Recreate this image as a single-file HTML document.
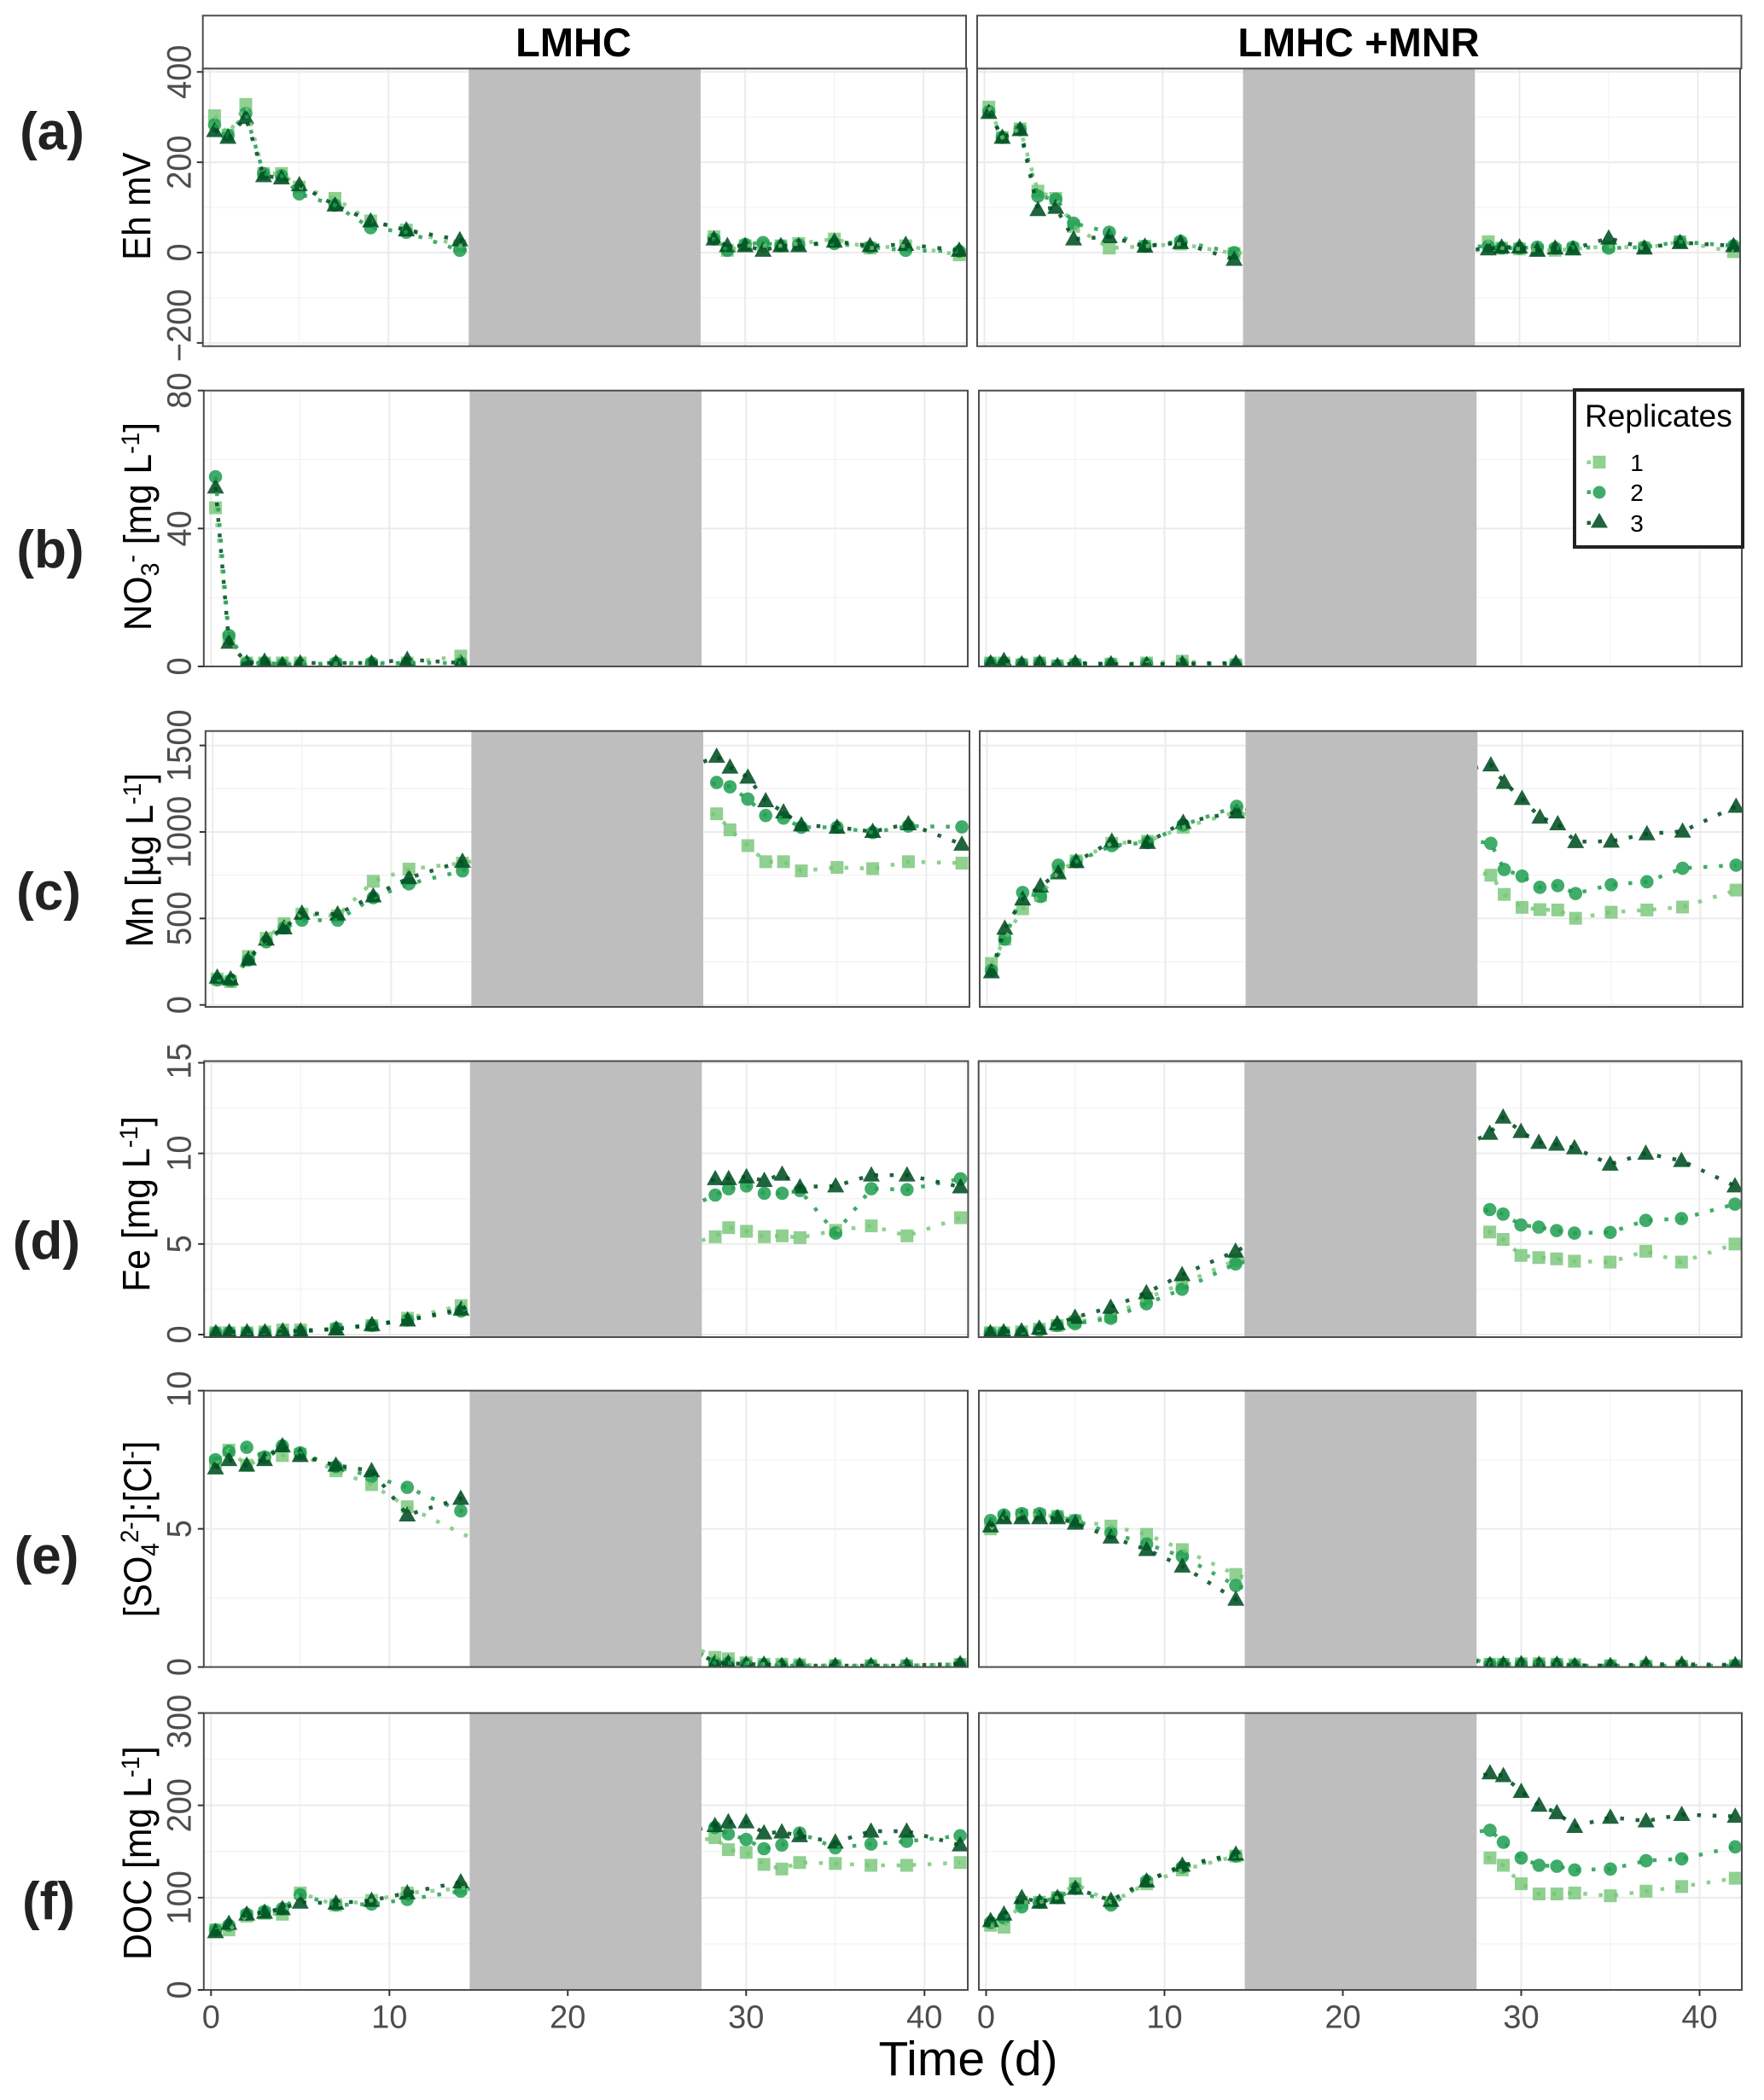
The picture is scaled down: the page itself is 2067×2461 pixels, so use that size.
<!DOCTYPE html>
<html lang="en">
<head>
<meta charset="utf-8">
<title>Porewater chemistry over time, LMHC and LMHC +MNR</title>
<style>
  html, body { margin: 0; padding: 0; background: #fff; }
  body { width: 2067px; height: 2461px; overflow: hidden; }
  svg { display: block; font-family: "Liberation Sans", Arial, sans-serif; }
</style>
</head>
<body>
<svg id="chart" xmlns="http://www.w3.org/2000/svg" width="2067" height="2461" viewBox="0 0 2067 2461">
  <rect x="0" y="0" width="2067" height="2461" fill="#ffffff"/>
  <g id="panels"></g>

  <g>
    <rect x="237.7" y="18.3" width="894.3" height="62" fill="#ffffff" stroke="#4d4d4d" stroke-width="2"/>
    <rect x="1145" y="18.3" width="895.5" height="62" fill="#ffffff" stroke="#4d4d4d" stroke-width="2"/>
    <text x="672" y="66" font-size="47" font-weight="700" text-anchor="middle" fill="#000000">LMHC</text>
    <text x="1592" y="66" font-size="47" font-weight="700" text-anchor="middle" fill="#000000">LMHC +MNR</text>
  </g>

  <g font-size="62" font-weight="700" fill="#222222" text-anchor="middle">
    <text x="61" y="175">(a)</text>
    <text x="59" y="665">(b)</text>
    <text x="57" y="1066">(c)</text>
    <text x="54.5" y="1475">(d)</text>
    <text x="54.5" y="1844">(e)</text>
    <text x="57" y="2249">(f)</text>
  </g>

  <g fill="#000000" text-anchor="middle">
    <text font-size="46" transform="translate(176 241.7) rotate(-90) scale(0.915 1)">Eh mV</text>
    <text font-size="45" transform="translate(177 617) rotate(-90) scale(0.945 1)">NO<tspan font-size="30" dy="9">3</tspan><tspan font-size="30" dy="-22">-</tspan><tspan dy="13"> [mg L</tspan><tspan font-size="30" dy="-14">-1</tspan><tspan dy="14">]</tspan></text>
    <text font-size="45" transform="translate(179 1008) rotate(-90) scale(0.95 1)">Mn [µg L<tspan font-size="30" dy="-14">-1</tspan><tspan dy="14">]</tspan></text>
    <text font-size="45" transform="translate(175 1411) rotate(-90) scale(0.95 1)">Fe [mg L<tspan font-size="30" dy="-14">-1</tspan><tspan dy="14">]</tspan></text>
    <text font-size="45" transform="translate(177 1792) rotate(-90) scale(0.925 1)">[SO<tspan font-size="30" dy="9">4</tspan><tspan font-size="30" dy="-24">2-</tspan><tspan dy="15">]:[Cl</tspan><tspan font-size="30" dy="-14">-</tspan><tspan dy="14">]</tspan></text>
    <text font-size="46" transform="translate(177 2171.7) rotate(-90) scale(0.93 1)">DOC [mg L<tspan font-size="30" dy="-14">-1</tspan><tspan dy="14">]</tspan></text>
  </g>

  <text x="1134.5" y="2432" font-size="57" text-anchor="middle" fill="#000000">Time (d)</text>

  <g>
    <rect x="1845" y="457" width="197" height="184" fill="#ffffff" stroke="#222222" stroke-width="4"/>
    <text x="1857" y="500" font-size="37" fill="#000000">Replicates</text>
    <g>
      <rect x="1859.5" y="539.5" width="4.5" height="4.5" fill="#74c476" fill-opacity="0.8"/>
      <rect x="1866.5" y="534" width="15" height="15" fill="#74c476" fill-opacity="0.8"/>
      <text x="1918" y="552" font-size="28" text-anchor="middle" fill="#000000">1</text>
    </g>
    <g>
      <rect x="1859.5" y="574.5" width="4.5" height="4.5" fill="#1f9e50" fill-opacity="0.85"/>
      <circle cx="1874" cy="577" r="7.5" fill="#1f9e50" fill-opacity="0.85"/>
      <text x="1918" y="587" font-size="28" text-anchor="middle" fill="#000000">2</text>
    </g>
    <g>
      <rect x="1859.5" y="610.5" width="4.5" height="4.5" fill="#004f22" fill-opacity="0.88"/>
      <polygon points="1874,601 1884,618.5 1864,618.5" fill="#004f22" fill-opacity="0.88"/>
      <text x="1918" y="623" font-size="28" text-anchor="middle" fill="#000000">3</text>
    </g>
  </g>
</svg>

<script>
// ---- data ----
const days = [0.25, 1, 2, 3, 4, 5, 7, 9, 11, 14, 28.25, 29, 30, 31, 32, 33, 35, 37, 39, 42];
const xTicks = [0, 10, 20, 30, 40];
const xTickLabels = ['0', '10', '20', '30', '40'];
const xMinorTicks = [5, 15, 25, 35];
const anoxicStart = 14.5;
const anoxicEnd = 27.5;

const ehTicks = [-200, 0, 200, 400];
const ehTickLabels = ['\u2212200', '0', '200', '400'];
const ehLeft1 = [303, 260, 328, 175, 175, 145, 120, 70, 50, 15, 35, 5, 15, 15, 15, 20, 30, 10, 15, -5];
const ehLeft2 = [283, 260, 308, 175, 170, 130, 105, 55, 45, 5, 30, 5, 18, 22, 15, 17, 20, 12, 5, 3];
const ehLeft3 = [270, 255, 299, 170, 165, 150, 105, 70, 50, 28, 30, 15, 15, 5, 15, 15, 25, 15, 18, 5];
const ehRight1 = [322, 255, 274, 136, 120, 58, 10, 14, 19, -2, 24, 10, 8, 5, 5, 8, 14, 10, 24, 2];
const ehRight2 = [312, 255, 272, 125, 118, 65, 45, 14, 25, 0, 14, 10, 10, 12, 10, 12, 10, 12, 24, 15];
const ehRight3 = [310, 255, 272, 95, 100, 30, 35, 14, 22, -15, 8, 12, 12, 5, 10, 8, 32, 10, 22, 15];

const no3Ticks = [0, 40, 80];
const no3TickLabels = ['0', '40', '80'];
const no3Left1 = [46, 8, 1, 1, 1, 1, 0.5, 0.5, 1, 3, null, null, null, null, null, null, null, null, null, null];
const no3Left2 = [55, 9, 1, 1, 0.5, 0.5, 1, 1, 1, 1, null, null, null, null, null, null, null, null, null, null];
const no3Left3 = [52, 7, 1, 1.5, 0.5, 1, 1, 1, 2, 1, null, null, null, null, null, null, null, null, null, null];
const no3Right1 = [1, 1, 0.5, 1, 0.2, 0.5, 0.7, 1, 1.5, 0.5, null, null, null, null, null, null, null, null, null, null];
const no3Right2 = [1, 1, 0.7, 1, 0.2, 0.7, 0.7, 0.7, 0.7, 0.5, null, null, null, null, null, null, null, null, null, null];
const no3Right3 = [1, 1.7, 0.7, 1, 0.2, 1, 0.7, 0.5, 0.8, 1, null, null, null, null, null, null, null, null, null, null];

const mnTicks = [0, 500, 1000, 1500];
const mnTickLabels = ['0', '500', '1000', '1500'];
const mnLeft1 = [150, 135, 280, 385, 470, 525, 515, 715, 785, 820, 1105, 1012, 921, 828, 828, 775, 795, 788, 828, 820];
const mnLeft2 = [145, 140, 260, 365, 445, 490, 490, 620, 700, 775, 1286, 1261, 1190, 1095, 1080, 1027, 1027, 997, 1034, 1029];
const mnLeft3 = [160, 150, 265, 380, 445, 530, 525, 630, 735, 830, 1437, 1374, 1316, 1180, 1115, 1040, 1027, 1002, 1047, 929];
const mnRight1 = [240, 380, 556, 632, 770, 833, 934, 946, 1027, 1115, 750, 639, 564, 551, 549, 501, 536, 549, 566, 664];
const mnRight2 = [199, 380, 650, 627, 808, 828, 921, 939, 1040, 1148, 934, 783, 745, 680, 690, 644, 695, 712, 790, 808];
const mnRight3 = [191, 443, 612, 687, 763, 828, 946, 939, 1055, 1115, 1387, 1286, 1193, 1085, 1047, 944, 946, 989, 1004, 1148];

const feTicks = [0, 5, 10, 15];
const feTickLabels = ['0', '5', '10', '15'];
const feLeft1 = [0.1, 0.1, 0.1, 0.15, 0.25, 0.25, 0.3, 0.5, 0.9, 1.6, 5.4, 5.9, 5.7, 5.4, 5.45, 5.35, 5.75, 6.0, 5.45, 6.45];
const feLeft2 = [0.1, 0.1, 0.1, 0.1, 0.1, 0.15, 0.35, 0.5, 0.8, 1.3, 7.7, 8.05, 8.2, 7.8, 7.8, 7.95, 5.6, 8.05, 8.0, 8.6];
const feLeft3 = [0.1, 0.15, 0.15, 0.15, 0.2, 0.2, 0.3, 0.55, 0.8, 1.4, 8.6, 8.6, 8.7, 8.5, 8.85, 8.15, 8.2, 8.8, 8.8, 8.15];
const feRight1 = [0.1, 0.1, 0.15, 0.3, 0.5, 0.7, 1.0, 2.0, 2.8, 4.1, 5.66, 5.25, 4.37, 4.25, 4.18, 4.05, 4.0, 4.6, 4.0, 5.0];
const feRight2 = [0.1, 0.1, 0.1, 0.25, 0.5, 0.6, 0.9, 1.7, 2.5, 3.9, 6.9, 6.65, 6.05, 5.93, 5.74, 5.6, 5.64, 6.3, 6.4, 7.2];
const feRight3 = [0.1, 0.15, 0.2, 0.35, 0.6, 0.95, 1.5, 2.3, 3.3, 4.6, 11.1, 12.0, 11.2, 10.6, 10.5, 10.3, 9.4, 10.0, 9.6, 8.2];

const so4Ticks = [0, 5, 10];
const so4TickLabels = ['0', '5', '10'];
const so4Left1 = [7.4, 7.85, 7.3, 7.55, 7.65, 7.7, 7.1, 6.6, 5.8, null, 0.35, 0.3, 0.15, 0.1, 0.1, 0.08, 0.05, 0.05, 0.05, 0.1];
const so4Left2 = [7.5, 7.8, 7.95, 7.6, 8.0, 7.75, 7.25, 6.9, 6.5, 5.65, 0.15, 0.15, 0.1, 0.08, 0.05, 0.05, 0.05, 0.05, 0.05, 0.1];
const so4Left3 = [7.2, 7.5, 7.3, 7.5, 8.0, 7.65, 7.3, 7.1, 5.5, 6.1, 0.15, 0.15, 0.1, 0.1, 0.05, 0.05, 0.05, 0.05, 0.05, 0.12];
const so4Right1 = [5.0, 5.4, 5.5, 5.5, 5.45, 5.3, 5.1, 4.8, 4.25, 3.35, 0.1, 0.1, 0.12, 0.12, 0.1, 0.08, 0.05, 0.03, 0.03, 0.05];
const so4Right2 = [5.3, 5.5, 5.55, 5.55, 5.45, 5.3, 4.85, 4.45, 4.0, 2.95, 0.1, 0.1, 0.1, 0.1, 0.1, 0.05, 0.05, 0.05, 0.05, 0.05];
const so4Right3 = [5.1, 5.4, 5.4, 5.4, 5.4, 5.2, 4.7, 4.25, 3.65, 2.45, 0.08, 0.1, 0.12, 0.1, 0.1, 0.05, 0.05, 0.1, 0.1, 0.08];

const docTicks = [0, 100, 200, 300];
const docTickLabels = ['0', '100', '200', '300'];
const docLeft1 = [65, 65, 80, 83, 82, 105, 92, 97, 105, 110, 165, 152, 149, 136, 131, 138, 137, 135, 135, 138];
const docLeft2 = [65, 70, 82, 85, 88, 103, 92, 93, 98, 107, 176, 169, 163, 153, 157, 170, 154, 158, 161, 167];
const docLeft3 = [63, 72, 82, 84, 88, 95, 94, 97, 105, 117, 178, 182, 182, 170, 171, 167, 160, 172, 172, 157];
const docRight1 = [70, 68, 95, 95, 100, 115, 95, 115, 130, 145, 143, 135, 115, 104, 104, 105, 102, 107, 112, 121];
const docRight2 = [73, 78, 90, 95, 100, 110, 92, 118, 133, 145, 173, 160, 143, 135, 134, 130, 131, 140, 142, 155];
const docRight3 = [75, 82, 100, 95, 100, 110, 97, 118, 135, 147, 235, 232, 215, 200, 192, 177, 187, 183, 190, 188];

// ---- layout (not data) ----
const xSlope = 20.9;
const colX = [
  { left: 238.8, right: 1134, zero: 247.3 },
  { left: 1147, right: 2041, zero: 1155.5 }
];
const rows = [
  { key: 'eh', ticks: ehTicks, labels: ehTickLabels, series: [[ehLeft1, ehLeft2, ehLeft3], [ehRight1, ehRight2, ehRight3]],
    top: 80.3, bottom: 405.7, v0: 0, p0: 296, v1: 400, p1: 84.3, dx: [-1.1, -2], nudge: { '-200': -20.5 } },
  { key: 'no3', ticks: no3Ticks, labels: no3TickLabels, series: [[no3Left1, no3Left2, no3Left3], [no3Right1, no3Right2, no3Right3]],
    top: 457.7, bottom: 781, v0: 0, p0: 781, v1: 80, p1: 457.7, dx: [0, 0], nudge: {} },
  { key: 'mn', ticks: mnTicks, labels: mnTickLabels, series: [[mnLeft1, mnLeft2, mnLeft3], [mnRight1, mnRight2, mnRight3]],
    top: 856.7, bottom: 1180, v0: 0, p0: 1177.7, v1: 1500, p1: 873.6, dx: [2, 1], nudge: {} },
  { key: 'fe', ticks: feTicks, labels: feTickLabels, series: [[feLeft1, feLeft2, feLeft3], [feRight1, feRight2, feRight3]],
    top: 1243.5, bottom: 1567, v0: 0, p0: 1564, v1: 15, p1: 1245.5, dx: [0.4, -0.3], nudge: { '15': -2 } },
  { key: 'so4', ticks: so4Ticks, labels: so4TickLabels, series: [[so4Left1, so4Left2, so4Left3], [so4Right1, so4Right2, so4Right3]],
    top: 1629.7, bottom: 1953.6, v0: 0, p0: 1953.6, v1: 10, p1: 1629.7, dx: [0, 0], nudge: { '10': -2 } },
  { key: 'doc', ticks: docTicks, labels: docTickLabels, series: [[docLeft1, docLeft2, docLeft3], [docRight1, docRight2, docRight3]],
    top: 2007.5, bottom: 2332, v0: 0, p0: 2332, v1: 300, p1: 2007.5, dx: [0, 0], nudge: { '300': 10 } }
];
const seriesColor = ['#74c476', '#1f9e50', '#004f22'];
const seriesOpacity = [0.8, 0.85, 0.88];
const columnNames = ['lmhc', 'lmhc-mnr'];

const SVG_NS = 'http://www.w3.org/2000/svg';
function make(parent, tag, attrs) {
  const el = document.createElementNS(SVG_NS, tag);
  for (const k in attrs) el.setAttribute(k, attrs[k]);
  parent.appendChild(el);
  return el;
}

const root = document.getElementById('panels');
const defs = make(root, 'defs', {});

rows.forEach(function (row) {
  const yScale = function (v) {
    return row.p0 + (v - row.v0) * (row.p1 - row.p0) / (row.v1 - row.v0);
  };
  const majorStep = row.ticks[1] - row.ticks[0];
  const minorTicks = row.ticks.slice(0, -1).map(function (t) { return t + majorStep / 2; });

  colX.forEach(function (col, c) {
    const d = row.dx[c];
    const left = col.left + d;
    const right = col.right + d;
    const xScale = function (t) { return col.zero + d + t * xSlope; };
    const id = row.key + '-' + columnNames[c];

    const clip = make(defs, 'clipPath', { id: 'clip-' + id });
    make(clip, 'rect', { x: left, y: row.top, width: right - left, height: row.bottom - row.top });

    const g = make(root, 'g', {});
    
    

    const bg = make(g, 'rect', { x: left, y: row.top, width: right - left, height: row.bottom - row.top, fill: '#ffffff' });
    
    

    const grid = make(g, 'g', { 'clip-path': 'url(#clip-' + id + ')' });
    
    

    minorTicks.forEach(function (t) {
      const line = make(grid, 'line', { x1: left, x2: right, y1: yScale(t), y2: yScale(t), stroke: '#f2f2f2', 'stroke-width': 1.2 });
      
      
    });
    row.ticks.forEach(function (t) {
      const line = make(grid, 'line', { x1: left, x2: right, y1: yScale(t), y2: yScale(t), stroke: '#ebebeb', 'stroke-width': 2 });
      
      
    });
    xMinorTicks.forEach(function (t) {
      const line = make(grid, 'line', { x1: xScale(t), x2: xScale(t), y1: row.top, y2: row.bottom, stroke: '#f2f2f2', 'stroke-width': 1.2 });
      
      
    });
    xTicks.forEach(function (t) {
      const line = make(grid, 'line', { x1: xScale(t), x2: xScale(t), y1: row.top, y2: row.bottom, stroke: '#ebebeb', 'stroke-width': 2 });
      
      
    });

    const plot = make(g, 'g', { 'clip-path': 'url(#clip-' + id + ')' });
    
    

    // markers first, dotted lines over them
    row.series[c].forEach(function (vals, s) {
      const fill = seriesColor[s];
      const op = seriesOpacity[s];
      vals.forEach(function (v, i) {
        if (v === null) return;
        const px = xScale(days[i]);
        const py = yScale(v);
        let m;
        if (s === 0) {
          m = make(plot, 'rect', { x: px - 7.5, y: py - 7.5, width: 15, height: 15, fill: fill, 'fill-opacity': op });
        } else if (s === 1) {
          m = make(plot, 'circle', { cx: px, cy: py, r: 7.8, fill: fill, 'fill-opacity': op });
        } else {
          m = make(plot, 'polygon', { points: px + ',' + (py - 10.5) + ' ' + (px + 10) + ',' + (py + 7.5) + ' ' + (px - 10) + ',' + (py + 7.5), fill: fill, 'fill-opacity': op });
        }
        
        
      });
    });
    row.series[c].forEach(function (vals, s) {
      const pts = [];
      vals.forEach(function (v, i) {
        if (v !== null) pts.push(xScale(days[i]) + ',' + yScale(v));
      });
      const line = make(plot, 'polyline', {
        points: pts.join(' '), fill: 'none', stroke: seriesColor[s], 'stroke-opacity': seriesOpacity[s],
        'stroke-width': 4.5, 'stroke-dasharray': '4.5 13.7'
      });
      
      
    });

    const band = make(g, 'rect', {
      x: xScale(anoxicStart), y: row.top, width: xScale(anoxicEnd) - xScale(anoxicStart),
      height: row.bottom - row.top, fill: '#bebebe'
    });
    
    

    const border = make(g, 'rect', { x: left, y: row.top, width: right - left, height: row.bottom - row.top, fill: 'none', stroke: '#4d4d4d', 'stroke-width': 2 });
    
    

    if (c === 0) {
      row.ticks.forEach(function (t, i) {
        const tick = make(g, 'line', { x1: left - 7, x2: left, y1: yScale(t), y2: yScale(t), stroke: '#333333', 'stroke-width': 2 });
        
        
        const nudge = row.nudge[String(t)] || 0;
        const label = make(g, 'text', {
          transform: 'translate(223.5 ' + (yScale(t) + nudge) + ') rotate(-90) scale(0.95 1)',
          'font-size': 40, 'text-anchor': 'middle', fill: '#4d4d4d'
        });
        
        
        label.textContent = row.labels[i];
      });
    }

    if (row.key === 'doc') {
      xTicks.forEach(function (t, i) {
        const tick = make(g, 'line', { x1: xScale(t), x2: xScale(t), y1: row.bottom, y2: row.bottom + 7, stroke: '#333333', 'stroke-width': 2 });
        
        
        const label = make(g, 'text', { x: xScale(t), y: 2376.7, 'font-size': 38, 'text-anchor': 'middle', fill: '#4d4d4d' });
        
        
        label.textContent = xTickLabels[i];
      });
    }
  });
});
</script>
</body>
</html>
